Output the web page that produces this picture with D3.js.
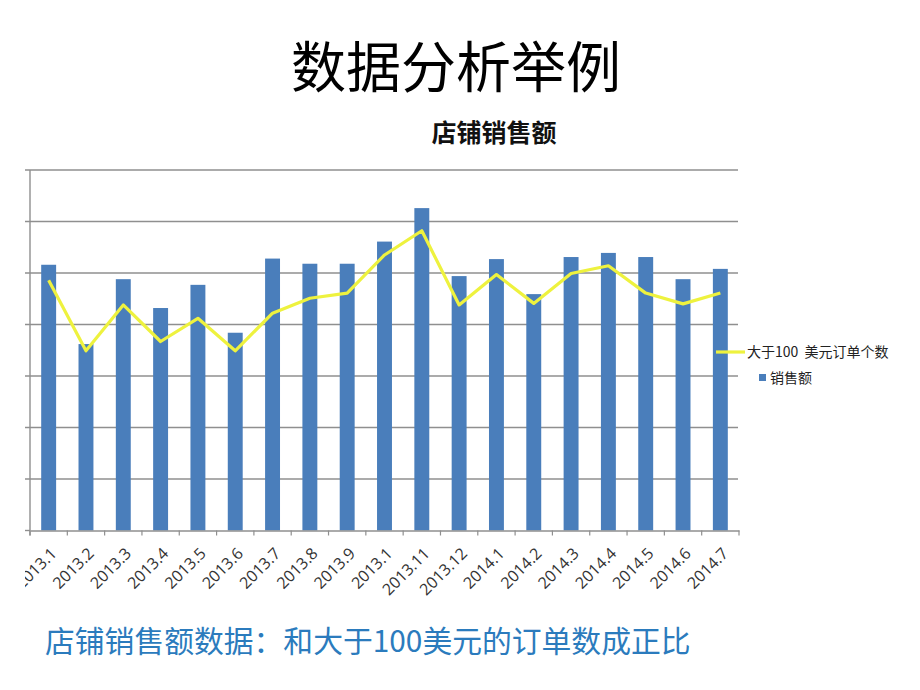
<!DOCTYPE html>
<html>
<head>
<meta charset="utf-8">
<script src="https://cdn.jsdelivr.net/npm/d3@7/dist/d3.min.js"></script>
<style>
  html, body { margin: 0; padding: 0; background: #fff; }
  svg { display: block; }
</style>
</head>
<body>
<svg id="chart" width="920" height="690"></svg>
<script>
const categories = ["2013.1","2013.2","2013.3","2013.4","2013.5","2013.6","2013.7","2013.8","2013.9","2013.1","2013.11","2013.12","2014.1","2014.2","2014.3","2014.4","2014.5","2014.6","2014.7"];
const sales = [5.16,3.62,4.88,4.32,4.77,3.84,5.28,5.18,5.18,5.61,6.26,4.94,5.27,4.59,5.31,5.39,5.31,4.88,5.08];
const orders = [4.86,3.49,4.38,3.67,4.12,3.49,4.22,4.51,4.61,5.35,5.82,4.38,4.97,4.41,4.99,5.14,4.61,4.40,4.61];
const yTicks = [0,1,2,3,4,5,6,7];
const seriesNames = ["大于100  美元订单个数", "销售额"];

const svg = d3.select("#chart");
const FONT = "'Noto Sans CJK SC', 'Noto Sans', sans-serif";
const pLeft = 30, pRight = 739, pTop = 170, pBottom = 530.5;

const x = d3.scaleBand().domain(d3.range(categories.length)).range([pLeft, pRight]).paddingInner(0.6).paddingOuter(0.3);
const xb = d3.scaleBand().domain(d3.range(categories.length)).range([pLeft, pRight]);
const y = d3.scaleLinear().domain([0, 7]).range([pBottom, pTop]);

// Main title
svg.append("text").attr("x", 456).attr("y", 87).attr("text-anchor", "middle")
  .attr("font-family", FONT).attr("font-size", 55).attr("fill", "#000").text("数据分析举例");

// Chart title
svg.append("text").attr("x", 494).attr("y", 142).attr("text-anchor", "middle")
  .attr("font-family", FONT).attr("font-weight", 700).attr("font-size", 25).attr("fill", "#111").text("店铺销售额");

// Gridlines
svg.append("g").selectAll("line").data(yTicks.filter(d => d > 0)).join("line")
  .attr("x1", pLeft - 5).attr("x2", pRight - 1)
  .attr("y1", d => y(d)).attr("y2", d => y(d))
  .attr("stroke", "#8f8f8f").attr("stroke-width", 1.6);

// Y axis line
svg.append("line").attr("x1", pLeft).attr("x2", pLeft).attr("y1", pTop).attr("y2", pBottom + 5)
  .attr("stroke", "#8f8f8f").attr("stroke-width", 1.4);
svg.append("line").attr("x1", pLeft - 5).attr("x2", pLeft).attr("y1", pBottom).attr("y2", pBottom)
  .attr("stroke", "#8f8f8f").attr("stroke-width", 1.4);

// Bars
svg.append("g").selectAll("rect").data(sales).join("rect")
  .attr("x", (d, i) => x(i)).attr("width", x.bandwidth())
  .attr("y", d => y(d)).attr("height", d => y(0) - y(d))
  .attr("fill", "#4a7ebb");

// X axis (clipped at the left edge as in the reference)
svg.append("clipPath").attr("id", "lblclip").append("rect")
  .attr("x", 25).attr("y", 0).attr("width", 900).attr("height", 690);
const labelsWrap = svg.append("g").attr("clip-path", "url(#lblclip)");
const xAxis = d3.axisBottom(xb).tickSize(0).tickFormat(i => categories[i]);
const gx = labelsWrap.append("g").attr("transform", `translate(0,${pBottom})`).call(xAxis);
gx.select(".domain").attr("stroke", "#8f8f8f").attr("stroke-width", 1.4);
gx.selectAll(".tick text")
  .attr("font-family", "'Open Sans', 'DejaVu Sans', sans-serif").attr("font-size", 16).attr("fill", "#333")
  .attr("text-anchor", "end").attr("dy", "0.35em").attr("y", 0)
  .attr("transform", "translate(5,20) rotate(-45)");

// boundary tick marks
svg.append("g").selectAll("line").data(d3.range(categories.length + 1)).join("line")
  .attr("x1", i => pLeft + i * xb.step()).attr("x2", i => pLeft + i * xb.step())
  .attr("y1", pBottom).attr("y2", pBottom + 5)
  .attr("stroke", "#8f8f8f").attr("stroke-width", 1.2);

// Line
const line = d3.line().x((d, i) => xb(i) + xb.bandwidth() / 2).y(d => y(d));
svg.append("path").datum(orders).attr("d", line)
  .attr("fill", "none").attr("stroke", "#eef23e").attr("stroke-width", 3.2).attr("stroke-linejoin", "round");

// Legend
const lg = svg.append("g").attr("font-family", FONT).attr("font-size", 14).attr("fill", "#222");
lg.append("line").attr("x1", 716).attr("x2", 745).attr("y1", 352).attr("y2", 352)
  .attr("stroke", "#eef23e").attr("stroke-width", 3.2);
lg.append("text").attr("x", 747).attr("y", 357).style("white-space", "pre").text(seriesNames[0]);
lg.append("rect").attr("x", 759).attr("y", 374).attr("width", 7).attr("height", 7).attr("fill", "#4a7ebb");
lg.append("text").attr("x", 770).attr("y", 383).text(seriesNames[1]);

// Bottom text
svg.append("text").attr("x", 45).attr("y", 652)
  .attr("font-family", FONT).attr("font-size", 29.8).attr("fill", "#2b7bbd")
  .text("店铺销售额数据：和大于100美元的订单数成正比");
</script>
</body>
</html>
